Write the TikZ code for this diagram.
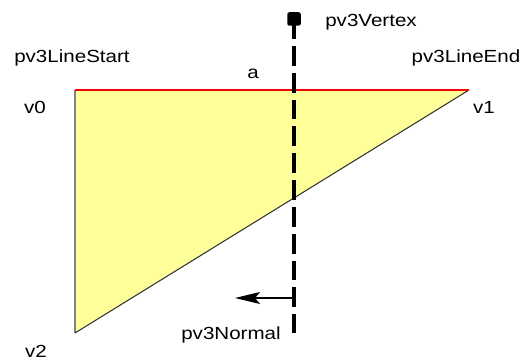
\documentclass[tikz,border=0pt]{standalone}
\usepackage{fontspec}
\setmainfont{Liberation Sans}
\usetikzlibrary{arrows.meta}
\definecolor{triyellow}{RGB}{255,255,153}
\newcommand{\wtxt}[1]{\scalebox{1.17}[1]{#1}}

\begin{document}
\begin{tikzpicture}[x=0.02cm, y=-0.02cm,
  txt/.style={font=\fontsize{10}{12}\selectfont, inner sep=0pt, anchor=base}]
  \useasboundingbox (0,0) rectangle (523,358);

  % Triangle
  \coordinate (v0) at (75,90);
  \coordinate (v1) at (469,90);
  \coordinate (v2) at (75,333);
  \fill[triyellow] (v0) -- (v1) -- (v2) -- cycle;
  \draw[gray, line width=0.7pt] (v0) -- (v2);
  \draw[black!80, line width=0.6pt] (v1) -- (v2);
  \draw[red, line width=0.7pt] (v0) -- (v1);

  % Vertex and normal
  \node[fill=black, inner sep=0pt, minimum size=0.27cm, rounded corners=1.2pt] (vtx) at (294,19) {};
  \coordinate (nbot) at (294,333);
  \coordinate (nfoot) at (294,298);
  \coordinate (ntip) at (235,298);
  \draw[line width=2.6pt, dash pattern=on 0.397cm off 0.14cm] (vtx.center) -- (nbot);
  \draw[-{Stealth[length=0.5cm, width=0.24cm, inset=0.1cm]}, line width=0.6pt] (nfoot) -- (ntip);

  % Labels
  \node[txt] (lblvtx) at (371,27) {\wtxt{pv3Vertex}};
  \node[txt] (lblstart) at (72,63) {\wtxt{pv3LineStart}};
  \node[txt] (lblend) at (466,63) {\wtxt{pv3LineEnd}};
  \node[txt] (lbla) at (253,78) {\wtxt{a}};
  \node[txt] (lblv0) at (35,113) {\wtxt{v0}};
  \node[txt] (lblv1) at (484,113) {\wtxt{v1}};
  \node[txt] (lblv2) at (36,357) {\wtxt{v2}};
  \node[txt] (lblnormal) at (231,339) {\wtxt{pv3Normal}};
\end{tikzpicture}
\end{document}
